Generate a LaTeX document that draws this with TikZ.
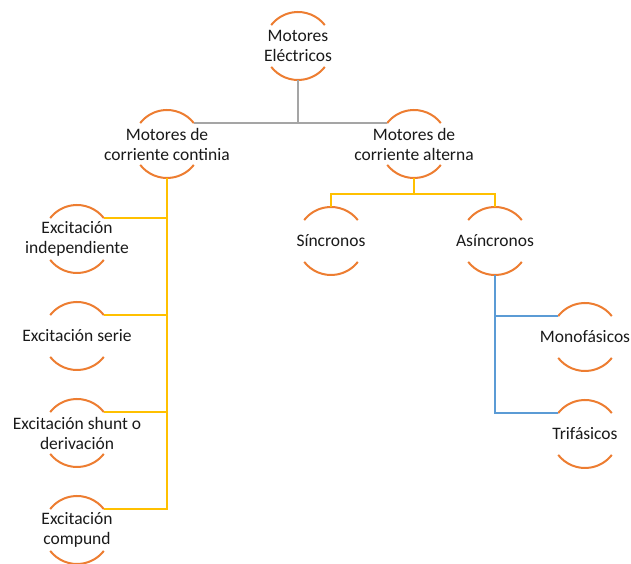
\documentclass[tikz,border=0pt]{standalone}
\usepackage{fontspec}
\setmainfont{Carlito}
\usetikzlibrary{calc}
\definecolor{arcorange}{HTML}{ED7D31}
\definecolor{linegray}{HTML}{A5A5A5}
\definecolor{lineyellow}{HTML}{FFC000}
\definecolor{lineblue}{HTML}{5B9BD5}
\definecolor{labeltext}{HTML}{1A1A1A}
\begin{document}
\begin{tikzpicture}[x=1bp,y=1bp,
  hub/.style={align=center, inner sep=0pt, text=labeltext,
    font=\fontsize{17.5bp}{20bp}\selectfont},
  arcline/.style={draw=arcorange, line width=2bp},
  graylink/.style={draw=linegray, line width=2bp},
  yellowlink/.style={draw=lineyellow, line width=2bp},
  bluelink/.style={draw=lineblue, line width=2bp}]
\fill[white] (0,0) rectangle (631,564);
\useasboundingbox (0,0) rectangle (631,564);

% nodes
\node[hub] (me)   at (298,518) {Motores\\Eléctricos};
\node[hub] (cc)   at (167,420) {Motores de\\corriente continia};
\node[hub] (ca)   at (414,420) {Motores de\\corriente alterna};
\node[hub] (e1)   at (77,325)  {Excitación\\independiente};
\node[hub] (e2)   at (77,228)  {Excitación serie};
\node[hub] (e3)   at (77,131)  {Excitación shunt o\\derivación};
\node[hub] (e4)   at (77,34)   {Excitación\\compund};
\node[hub] (sin)  at (331,323) {Síncronos};
\node[hub] (asin) at (495,323) {Asíncronos};
\node[hub] (mono) at (585,227) {Monofásicos};
\node[hub] (tri)  at (585,130) {Trifásicos};

% orange arcs above and below every label, plus helper points on the ring
\foreach \n in {me,cc,ca,e1,e2,e3,e4,sin,asin,mono,tri} {
  \coordinate (\n-tr) at ($(\n.center)+(38:34)$);
  \coordinate (\n-tl) at ($(\n.center)+(142:34)$);
  \coordinate (\n-t)  at ($(\n.center)+(90:34)$);
  \coordinate (\n-b)  at ($(\n.center)+(270:34)$);
  \draw[arcline] (\n-tr) arc[start angle=38, end angle=142, radius=34];
  \draw[arcline] ($(\n.center)+(218:34)$) arc[start angle=218, end angle=322, radius=34];
}

% top level
\draw[graylink] (me-b) -- (me-b |- cc-tr);
\draw[graylink] (cc-tr) -- (ca-tl);

% direct current branch
\draw[yellowlink] (cc-b) |- (e4-tr);
\foreach \n in {e1,e2,e3} {
  \draw[yellowlink] (\n-tr) -- (\n-tr -| cc-b);
}

% alternating current branch
\draw[yellowlink] (sin-t) -- ++(0,13) coordinate (barL) -| (asin-t);
\draw[yellowlink] (ca-b) -- (ca-b |- barL);

% asynchronous branch
\draw[bluelink] (asin-b) |- (tri-tl);
\draw[bluelink] (mono-tl) -- (mono-tl -| asin-b);
\end{tikzpicture}
\end{document}
